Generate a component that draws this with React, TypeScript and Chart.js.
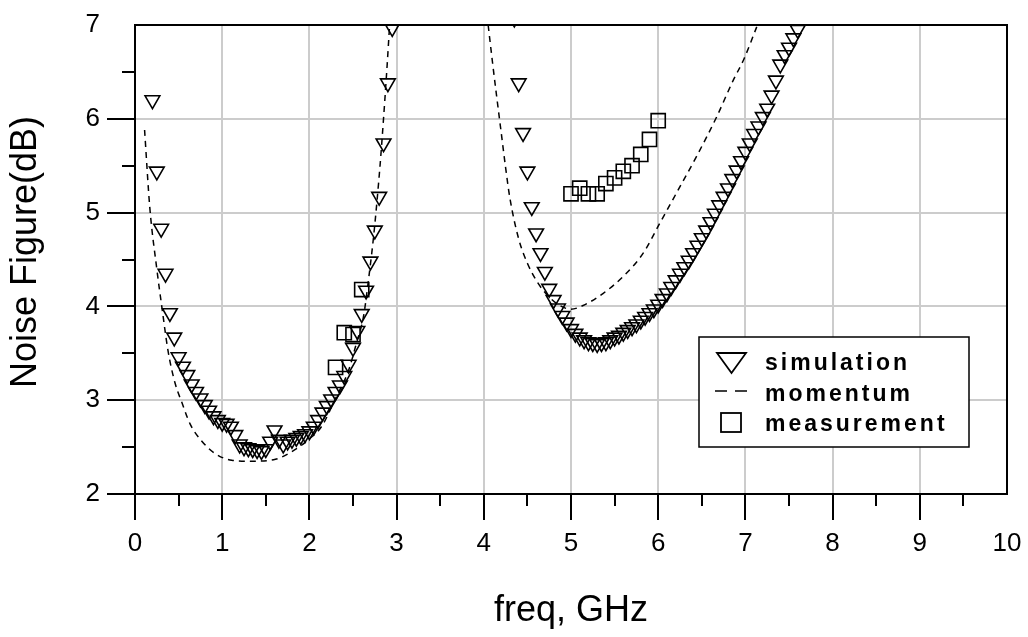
import React, { useEffect, useRef } from 'react';
import { Chart, registerables } from 'chart.js';

Chart.register(...registerables);

// ---------- data ----------
const simFreq = [
  0.2, 0.25, 0.3, 0.35, 0.4, 0.45, 0.5, 0.55, 0.6, 0.65, 0.7, 0.75, 0.8, 0.85, 0.9, 0.95,
  1.0, 1.05, 1.1, 1.15, 1.2, 1.25, 1.3, 1.35, 1.4, 1.45, 1.5, 1.55, 1.6, 1.65, 1.7, 1.75,
  1.8, 1.85, 1.9, 1.95, 2.0, 2.05, 2.1, 2.15, 2.2, 2.25, 2.3, 2.35, 2.4, 2.45, 2.5, 2.55,
  2.6, 2.65, 2.7, 2.75, 2.8, 2.85, 2.9, 2.95,
  4.35, 4.4, 4.45, 4.5, 4.55, 4.6, 4.65, 4.7, 4.75, 4.8, 4.85, 4.9, 4.95, 5.0, 5.05, 5.1,
  5.15, 5.2, 5.25, 5.3, 5.35, 5.4, 5.45, 5.5, 5.55, 5.6, 5.65, 5.7, 5.75, 5.8, 5.85, 5.9,
  5.95, 6.0, 6.05, 6.1, 6.15, 6.2, 6.25, 6.3, 6.35, 6.4, 6.45, 6.5, 6.55, 6.6, 6.65, 6.7,
  6.75, 6.8, 6.85, 6.9, 6.95, 7.0, 7.05, 7.1, 7.15, 7.2, 7.25, 7.3, 7.35, 7.4, 7.45, 7.5,
  7.55, 7.6,
];
const simNF = [
  6.2, 5.44, 4.83, 4.35, 3.93, 3.67, 3.46, 3.36, 3.27, 3.17, 3.09, 3.02, 2.95, 2.89, 2.83, 2.79,
  2.76, 2.75, 2.72, 2.63, 2.53, 2.5, 2.49, 2.48, 2.47, 2.46, 2.48, 2.56, 2.68, 2.58, 2.53, 2.56,
  2.58, 2.6, 2.62, 2.64, 2.67, 2.72, 2.79, 2.87, 2.94, 3.01, 3.09, 3.16, 3.26, 3.38, 3.56, 3.74,
  3.92, 4.17, 4.48, 4.81, 5.17, 5.74, 6.38, 6.97,
  7.07, 6.38, 5.85, 5.44, 5.06, 4.78, 4.57, 4.37, 4.19, 4.07, 3.98, 3.9, 3.83, 3.76, 3.71, 3.67,
  3.64, 3.62, 3.61, 3.6, 3.61, 3.62, 3.64, 3.67, 3.69, 3.72, 3.75, 3.78, 3.81, 3.85, 3.89, 3.93,
  3.97, 4.02, 4.08, 4.14, 4.21, 4.28, 4.35, 4.42, 4.49, 4.57, 4.65, 4.73, 4.81, 4.9, 4.99, 5.08,
  5.17, 5.26, 5.36, 5.45, 5.55, 5.65, 5.74, 5.84, 5.92, 6.02, 6.11, 6.25, 6.41, 6.58, 6.68, 6.76,
  6.86, 6.95,
];

const momFreq = [
  0.11, 0.17, 0.25, 0.31, 0.38, 0.46, 0.54, 0.63, 0.76, 0.92, 1.11, 1.34, 1.61, 1.83, 1.99,
  2.14, 2.29, 2.45, 2.54, 2.62, 2.68, 2.74, 2.81, 2.85, 2.89, 2.92,
  3.5,
  4.05, 4.1, 4.15, 4.2, 4.25, 4.3, 4.4, 4.5, 4.62, 4.75, 4.87, 5.0, 5.14, 5.37, 5.6, 5.83,
  6.02, 6.21, 6.44, 6.67, 6.86, 6.98, 7.13,
];
const momNF: (number | null)[] = [
  5.88, 5.05, 4.4, 3.98, 3.52, 3.18, 2.97, 2.75, 2.57, 2.43, 2.36, 2.35, 2.37, 2.47, 2.58,
  2.72, 3.0, 3.32, 3.61, 3.89, 4.3, 4.78, 5.5, 6.0, 6.55, 7.0,
  null,
  7.0, 6.6, 6.22, 5.85, 5.48, 5.15, 4.72, 4.46, 4.25, 4.1, 4.01, 3.97, 4.01, 4.14, 4.32, 4.57,
  4.89, 5.21, 5.6, 6.02, 6.41, 6.63, 6.98,
];

const measFreq = [2.3, 2.4, 2.5, 2.6, 5.0, 5.1, 5.2, 5.3, 5.4, 5.5, 5.6, 5.7, 5.8, 5.9, 6.0];
const measNF = [3.35, 3.72, 3.7, 4.18, 5.2, 5.26, 5.2, 5.2, 5.31, 5.37, 5.44, 5.5, 5.62, 5.78, 5.98];

const xTicks = [0, 1, 2, 3, 4, 5, 6, 7, 8, 9, 10];
const yTicks = [2, 3, 4, 5, 6, 7];
const xMinorTicks = [0.5, 1.5, 2.5, 3.5, 4.5, 5.5, 6.5, 7.5, 8.5, 9.5];
const yMinorTicks = [2.5, 3.5, 4.5, 5.5, 6.5];

const seriesNames = ['simulation', 'momentum', 'measurement'];
const xTitle = 'freq, GHz';
const yTitle = 'Noise Figure(dB)';

const FONT = "'Liberation Sans', Arial, Helvetica, sans-serif";

const toPoints = (xs: number[], ys: (number | null)[]) => xs.map((x, i) => ({ x, y: ys[i] }));

// ---------- plugins ----------
const framePlugin = {
  id: 'frameAndTicks',
  afterDatasetsDraw(chart: any) {
    const { ctx, chartArea: a, scales } = chart;
    const xs = scales.x;
    const ys = scales.y;
    ctx.save();
    ctx.strokeStyle = '#000';
    ctx.lineWidth = 2;
    ctx.beginPath();
    ctx.moveTo(a.left, a.top);
    ctx.lineTo(a.right, a.top);
    ctx.lineTo(a.right, a.bottom);
    ctx.stroke();
    ctx.beginPath();
    xTicks.slice(0, -1).forEach((v) => {
      const px = Math.round(xs.getPixelForValue(v));
      ctx.moveTo(px, a.bottom);
      ctx.lineTo(px, a.bottom + 26);
    });
    xMinorTicks.forEach((v) => {
      const px = Math.round(xs.getPixelForValue(v));
      ctx.moveTo(px, a.bottom);
      ctx.lineTo(px, a.bottom + 12);
    });
    yTicks.slice(0, -1).forEach((v) => {
      const py = Math.round(ys.getPixelForValue(v));
      ctx.moveTo(a.left, py);
      ctx.lineTo(a.left - 28, py);
    });
    yMinorTicks.forEach((v) => {
      const py = Math.round(ys.getPixelForValue(v));
      ctx.moveTo(a.left, py);
      ctx.lineTo(a.left - 13, py);
    });
    ctx.stroke();

    // y axis title (rotated)
    ctx.fillStyle = '#000';
    ctx.font = `36px ${FONT}`;
    ctx.textAlign = 'center';
    ctx.textBaseline = 'middle';
    ctx.translate(26, 252);
    ctx.rotate(-Math.PI / 2);
    ctx.fillText(yTitle, 0, 0);
    ctx.restore();
  },
};

const legendPlugin = {
  id: 'boxLegend',
  afterDraw(chart: any) {
    const { ctx } = chart;
    const bx = 699, by = 337, bw = 270, bh = 110;
    ctx.save();
    ctx.fillStyle = '#fff';
    ctx.fillRect(bx, by, bw, bh);
    ctx.strokeStyle = '#000';
    ctx.lineWidth = 1.5;
    ctx.strokeRect(bx, by, bw, bh);

    ctx.lineWidth = 1.8;
    ctx.beginPath();
    ctx.moveTo(717, 353);
    ctx.lineTo(746, 353);
    ctx.lineTo(731.5, 373);
    ctx.closePath();
    ctx.stroke();
    ctx.lineWidth = 1.5;
    ctx.beginPath();
    ctx.moveTo(715, 391);
    ctx.lineTo(727, 391);
    ctx.moveTo(735, 391);
    ctx.lineTo(747, 391);
    ctx.stroke();
    ctx.lineWidth = 1.8;
    ctx.strokeRect(721, 413, 20, 19);

    ctx.fillStyle = '#000';
    ctx.font = `bold 23px ${FONT}`;
    (ctx as any).letterSpacing = '3px';
    ctx.textAlign = 'left';
    ctx.textBaseline = 'alphabetic';
    ctx.fillText(seriesNames[0], 765, 370);
    ctx.fillText(seriesNames[1], 765, 401);
    ctx.fillText(seriesNames[2], 765, 431);
    ctx.restore();
  },
};

export default function App() {
  const canvasRef = useRef<HTMLCanvasElement | null>(null);

  useEffect(() => {
    const canvas = canvasRef.current;
    if (!canvas) return;
    const chart = new Chart(canvas, {
      type: 'scatter',
      data: {
        datasets: [
          {
            type: 'line',
            label: seriesNames[1],
            data: toPoints(momFreq, momNF) as any,
            showLine: true,
            spanGaps: false,
            borderColor: '#000',
            borderWidth: 1.5,
            borderDash: [6, 5],
            pointRadius: 0,
            cubicInterpolationMode: 'monotone',
            fill: false,
            clip: 0,
          } as any,
          {
            label: seriesNames[0],
            data: toPoints(simFreq, simNF),
            pointStyle: 'triangle',
            rotation: 180,
            radius: 8.5,
            borderColor: '#000',
            borderWidth: 1.6,
            backgroundColor: 'rgba(0,0,0,0)',
            clip: 0,
          } as any,
          {
            label: seriesNames[2],
            data: toPoints(measFreq, measNF),
            pointStyle: 'rect',
            radius: 10,
            borderColor: '#000',
            borderWidth: 1.6,
            backgroundColor: 'rgba(0,0,0,0)',
            clip: 0,
          } as any,
        ],
      },
      options: {
        animation: false,
        responsive: false,
        maintainAspectRatio: false,
        devicePixelRatio: 1,
        layout: { autoPadding: false, padding: { left: 0, right: 21, top: 25, bottom: 0 } },
        plugins: {
          legend: { display: false },
          tooltip: { enabled: false },
          title: { display: false },
        },
        scales: {
          x: {
            type: 'linear',
            min: 0,
            max: 10,
            afterBuildTicks: (s: any) => {
              s.ticks = xTicks.map((v) => ({ value: v }));
            },
            afterFit: (s: any) => {
              s.height = 143;
            },
            ticks: {
              color: '#000',
              padding: 0,
              maxRotation: 0,
              autoSkip: false,
              font: { family: FONT, size: 26 },
            },
            grid: {
              color: '#cccccc',
              lineWidth: 2,
              drawTicks: true,
              tickLength: 34,
              tickColor: 'rgba(0,0,0,0)',
            },
            border: { display: true, color: '#000', width: 2 },
            title: {
              display: true,
              text: xTitle,
              color: '#000',
              font: { family: FONT, size: 36 },
              padding: { top: 0, bottom: 4 },
            },
          },
          y: {
            type: 'linear',
            min: 2,
            max: 7,
            afterBuildTicks: (s: any) => {
              s.ticks = yTicks.map((v) => ({ value: v }));
            },
            afterFit: (s: any) => {
              s.width = 135;
            },
            ticks: {
              color: '#000',
              padding: 0,
              autoSkip: false,
              font: { family: FONT, size: 26 },
            },
            grid: {
              color: '#cccccc',
              lineWidth: 2,
              drawTicks: true,
              tickLength: 35,
              tickColor: 'rgba(0,0,0,0)',
            },
            border: { display: true, color: '#000', width: 2 },
            title: { display: false, text: yTitle },
          },
        },
      },
      plugins: [framePlugin, legendPlugin],
    });

    return () => chart.destroy();
  }, []);

  return (
    <div style={{ position: 'fixed', left: 0, top: 0, width: 1028, height: 637, background: '#fff' }}>
      <canvas ref={canvasRef} width={1028} height={637} />
    </div>
  );
}
